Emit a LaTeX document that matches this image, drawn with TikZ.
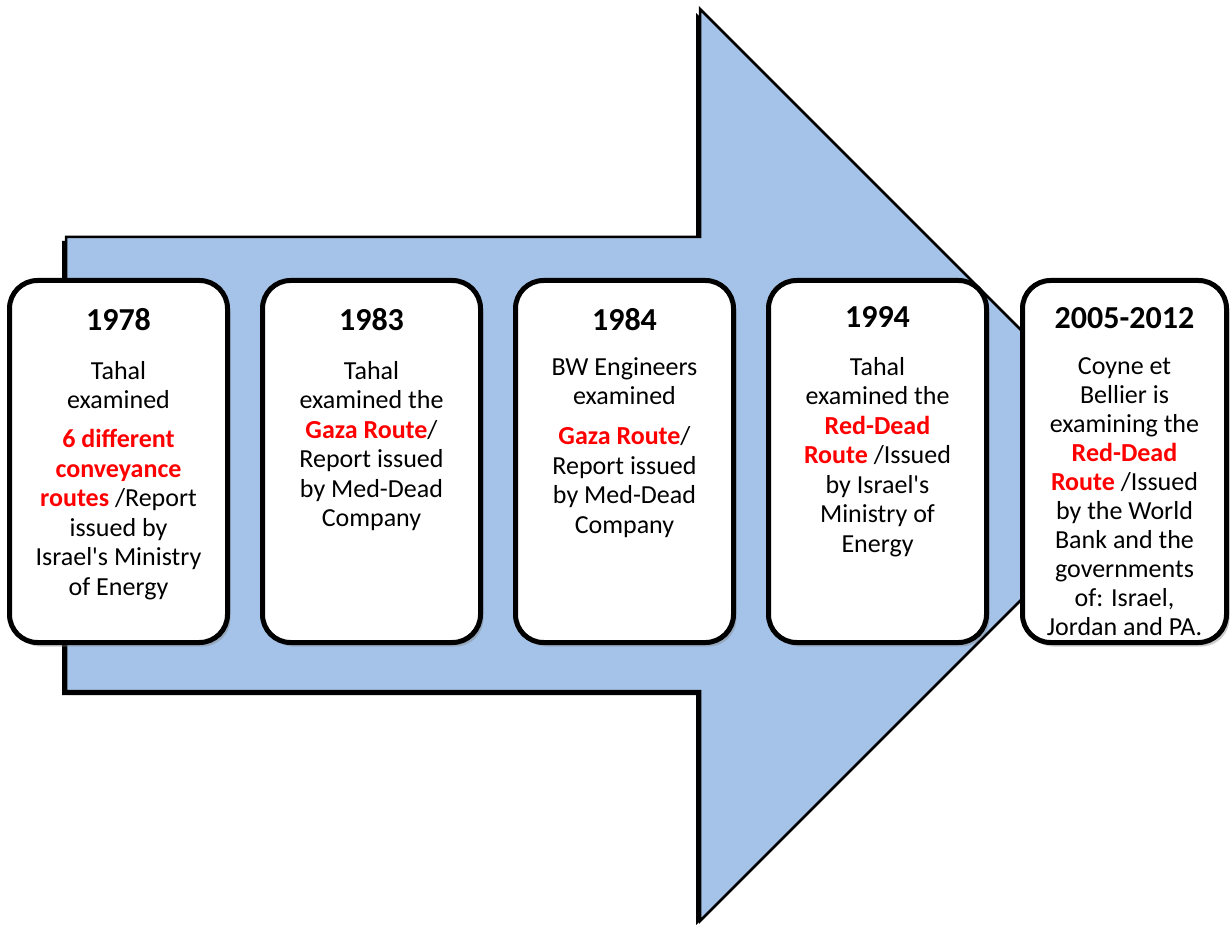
\documentclass[tikz,border=0pt]{standalone}
\usepackage{fontspec}
\setmainfont{Carlito}
\usepackage{tikz}
\usetikzlibrary{shadows}
\definecolor{arrowblue}{RGB}{165,195,232}
\newcommand{\yeartxt}[1]{{\fontsize{32}{36}\selectfont\bfseries #1}}
\newcommand{\redtxt}[1]{\textcolor{red}{\bfseries #1}}

\begin{document}
\begin{tikzpicture}[x=1pt,y=-1pt,node distance=253pt]
\tikzstyle{card}=[draw=black,line width=5pt,rounded corners=28pt,fill=white,
  minimum width=218pt,minimum height=362pt,
  drop shadow={shadow xshift=3pt,shadow yshift=-4pt,opacity=0.4}]
\tikzstyle{txt}=[align=center,inner sep=0pt,anchor=north,
  font=\fontsize{26}{29.5}\selectfont]
\useasboundingbox (0,0) rectangle (1232,925);

% big arrow, dark edge first
\begin{scope}[shift={(-4,4)}]
\fill[black] (66,237) -- (700,237) -- (700,9) -- (1156,465) -- (700,921)
  -- (700,691) -- (66,691) -- cycle;
\end{scope}
\draw[fill=arrowblue,line width=2.5pt] (66,237) -- (700,237) -- (700,9)
  -- (1156,465) -- (700,921) -- (700,691) -- (66,691) -- cycle;

% cards
\node[card] (c1) at (118.5,461.5) {};
\node[card] (c2) [right of=c1] {};
\node[card] (c3) [right of=c2] {};
\node[card] (c4) [right of=c3] {};
\node[card,minimum width=204pt] (c5) [right of=c4,xshift=-6pt] {};

% texts
\node[txt] (t1) at ([yshift=-30pt]c1.north) {\yeartxt{1978}\\[19.5pt]
  Tahal\\examined\\[9.5pt]\redtxt{6 different}\\\redtxt{conveyance}\\
  \redtxt{routes} /Report\\issued by\\Israel\textquotesingle s Ministry\\of Energy};
\node[txt] (t2) at ([yshift=-30pt]c2.north) {\yeartxt{1983}\\[19.5pt]
  Tahal\\examined the\\\redtxt{Gaza Route}/\\Report issued\\by Med-Dead\\Company};
\node[txt] (t3) at ([yshift=-30pt]c3.north) {\yeartxt{1984}\\[15.5pt]
  BW Engineers\\examined\\[10.5pt]\redtxt{Gaza Route}/\\Report issued\\
  by Med-Dead\\Company};
\node[txt] (t4) at ([yshift=-28pt]c4.north) {\yeartxt{1994}\\[18.5pt]
  Tahal\\examined the\\\redtxt{Red-Dead}\\\redtxt{Route} /Issued\\
  by Israel\textquotesingle s\\Ministry of\\Energy};
\node[txt,font=\fontsize{26}{29}\selectfont] (t5) at ([yshift=-29pt]c5.north)
  {\yeartxt{2005-2012}\\[17pt]
  Coyne et\\Bellier is\\examining the\\\redtxt{Red-Dead}\\\redtxt{Route} /Issued\\
  by the World\\Bank and the\\governments\\of: Israel,\\Jordan and PA.};
\end{tikzpicture}
\end{document}
